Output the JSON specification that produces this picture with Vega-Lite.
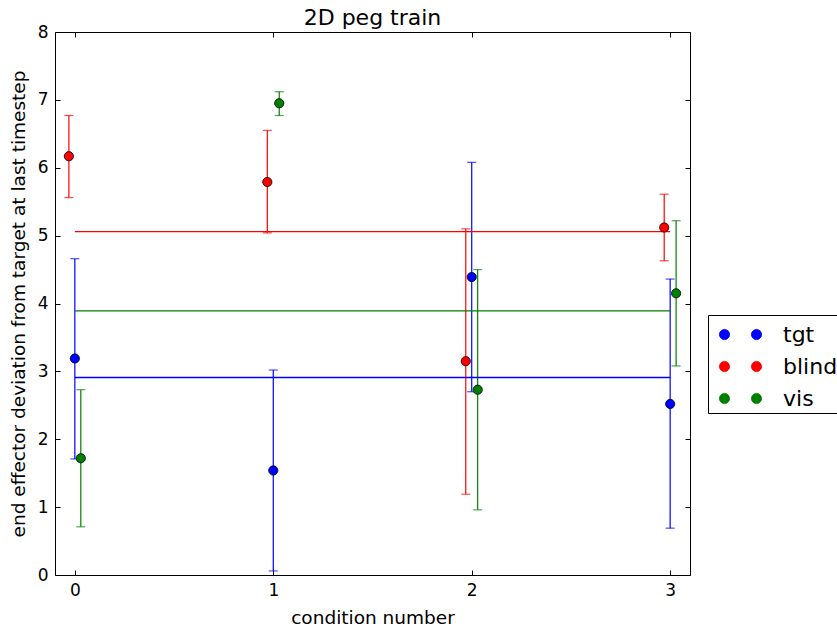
{
  "$schema": "https://vega.github.io/schema/vega-lite/v6.json",
  "autosize": {"type": "none"},
  "width": 635,
  "height": 543,
  "padding": {"left": 55, "top": 32, "right": 147, "bottom": 54},
  "background": "white",
  "title": {"text": "2D peg train", "fontSize": 22, "font": "DejaVu Sans", "fontWeight": "normal", "color": "black", "offset": -7},
  "config": {
    "font": "DejaVu Sans",
    "view": {"stroke": "black", "strokeWidth": 1},
    "axis": {
      "domain": false, "grid": false,
      "tickColor": "black", "tickSize": -5, "tickWidth": 1,
      "labelFontSize": 17, "labelColor": "black", "labelFont": "DejaVu Sans",
      "titleFontSize": 18.5, "titleColor": "black", "titleFont": "DejaVu Sans", "titleFontWeight": "normal"
    }
  },
  "datasets": {
    "pts": [
      {"series": "tgt", "x": 0.0, "y": 3.19, "lo": 1.71, "hi": 4.66},
      {"series": "tgt", "x": 1.0, "y": 1.54, "lo": 0.06, "hi": 3.02},
      {"series": "tgt", "x": 2.0, "y": 4.39, "lo": 2.70, "hi": 6.08},
      {"series": "tgt", "x": 3.0, "y": 2.52, "lo": 0.69, "hi": 4.36},
      {"series": "blind", "x": -0.03, "y": 6.17, "lo": 5.56, "hi": 6.77},
      {"series": "blind", "x": 0.97, "y": 5.79, "lo": 5.04, "hi": 6.55},
      {"series": "blind", "x": 1.97, "y": 3.15, "lo": 1.19, "hi": 5.10},
      {"series": "blind", "x": 2.97, "y": 5.12, "lo": 4.63, "hi": 5.61},
      {"series": "vis", "x": 0.03, "y": 1.72, "lo": 0.71, "hi": 2.73},
      {"series": "vis", "x": 1.03, "y": 6.95, "lo": 6.77, "hi": 7.12},
      {"series": "vis", "x": 2.03, "y": 2.73, "lo": 0.96, "hi": 4.50},
      {"series": "vis", "x": 3.03, "y": 4.15, "lo": 3.08, "hi": 5.22}
    ],
    "means": [
      {"series": "tgt", "x0": 0, "x1": 3, "mean": 2.91},
      {"series": "blind", "x0": 0, "x1": 3, "mean": 5.06},
      {"series": "vis", "x0": 0, "x1": 3, "mean": 3.89}
    ]
  },
  "resolve": {"axis": {"x": "independent", "y": "independent"}},
  "layer": [
    {
      "data": {"name": "pts"},
      "mark": {"type": "rule", "strokeWidth": 1.2},
      "encoding": {
        "x": {"field": "x", "type": "quantitative", "scale": {"domain": [-0.1, 3.1], "nice": false, "zero": false},
              "axis": {"orient": "bottom", "values": [0, 1, 2, 3], "title": "condition number", "labelPadding": 12, "titlePadding": 10, "format": "d"}},
        "y": {"field": "lo", "type": "quantitative", "scale": {"domain": [0, 8], "nice": false},
              "axis": {"orient": "left", "values": [0, 1, 2, 3, 4, 5, 6, 7, 8], "title": "end effector deviation from target at last timestep", "labelPadding": 12, "titlePadding": 9}},
        "y2": {"field": "hi"},
        "color": {"field": "series", "type": "nominal", "scale": {"domain": ["tgt", "blind", "vis"], "range": ["#0000ff", "#ff0000", "#008000"]}}
      }
    },
    {
      "data": {"name": "pts"},
      "mark": {"type": "tick", "orient": "horizontal", "size": 9, "thickness": 1.2},
      "encoding": {
        "x": {"field": "x", "type": "quantitative", "axis": {"orient": "top", "values": [0, 1, 2, 3], "labels": false, "title": null}},
        "y": {"field": "lo", "type": "quantitative", "axis": {"orient": "right", "values": [0, 1, 2, 3, 4, 5, 6, 7, 8], "labels": false, "title": null}},
        "color": {"field": "series", "type": "nominal"}
      }
    },
    {
      "data": {"name": "pts"},
      "mark": {"type": "tick", "orient": "horizontal", "size": 9, "thickness": 1.2},
      "encoding": {
        "x": {"field": "x", "type": "quantitative", "axis": null},
        "y": {"field": "hi", "type": "quantitative", "axis": null},
        "color": {"field": "series", "type": "nominal"}
      }
    },
    {
      "data": {"name": "means"},
      "mark": {"type": "rule", "strokeWidth": 1.3, "opacity": 1},
      "encoding": {
        "x": {"field": "x0", "type": "quantitative", "axis": null},
        "x2": {"field": "x1"},
        "y": {"field": "mean", "type": "quantitative", "axis": null},
        "color": {"field": "series", "type": "nominal"}
      }
    },
    {
      "data": {"name": "pts"},
      "mark": {"type": "point", "shape": "circle", "filled": true, "size": 85, "opacity": 1, "stroke": "black", "strokeWidth": 0.8},
      "encoding": {
        "x": {"field": "x", "type": "quantitative", "axis": null},
        "y": {"field": "y", "type": "quantitative", "axis": null},
        "color": {"field": "series", "type": "nominal",
                  "legend": {"orient": "none", "legendX": 653, "legendY": 283, "title": null,
                             "strokeColor": "black", "fillColor": "white", "padding": 3, "cornerRadius": 0,
                             "symbolType": "M -1.32 0 A 0.32 0.32 0 1 0 -0.68 0 A 0.32 0.32 0 1 0 -1.32 0 Z M 0.68 0 A 0.32 0.32 0 1 0 1.32 0 A 0.32 0.32 0 1 0 0.68 0 Z",
                             "symbolSize": 1024, "symbolStrokeColor": "black", "symbolStrokeWidth": 0.8, "symbolOpacity": 1,
                             "symbolOffset": 13, "labelOffset": 26, "rowPadding": 4,
                             "labelFontSize": 22, "labelColor": "black", "labelFont": "DejaVu Sans",
                             "encode": {"symbols": {"update": {"stroke": {"value": "black"}, "strokeWidth": {"value": 0.8}, "opacity": {"value": 1}, "fillOpacity": {"value": 1}}}}}}
      }
    }
  ]
}
